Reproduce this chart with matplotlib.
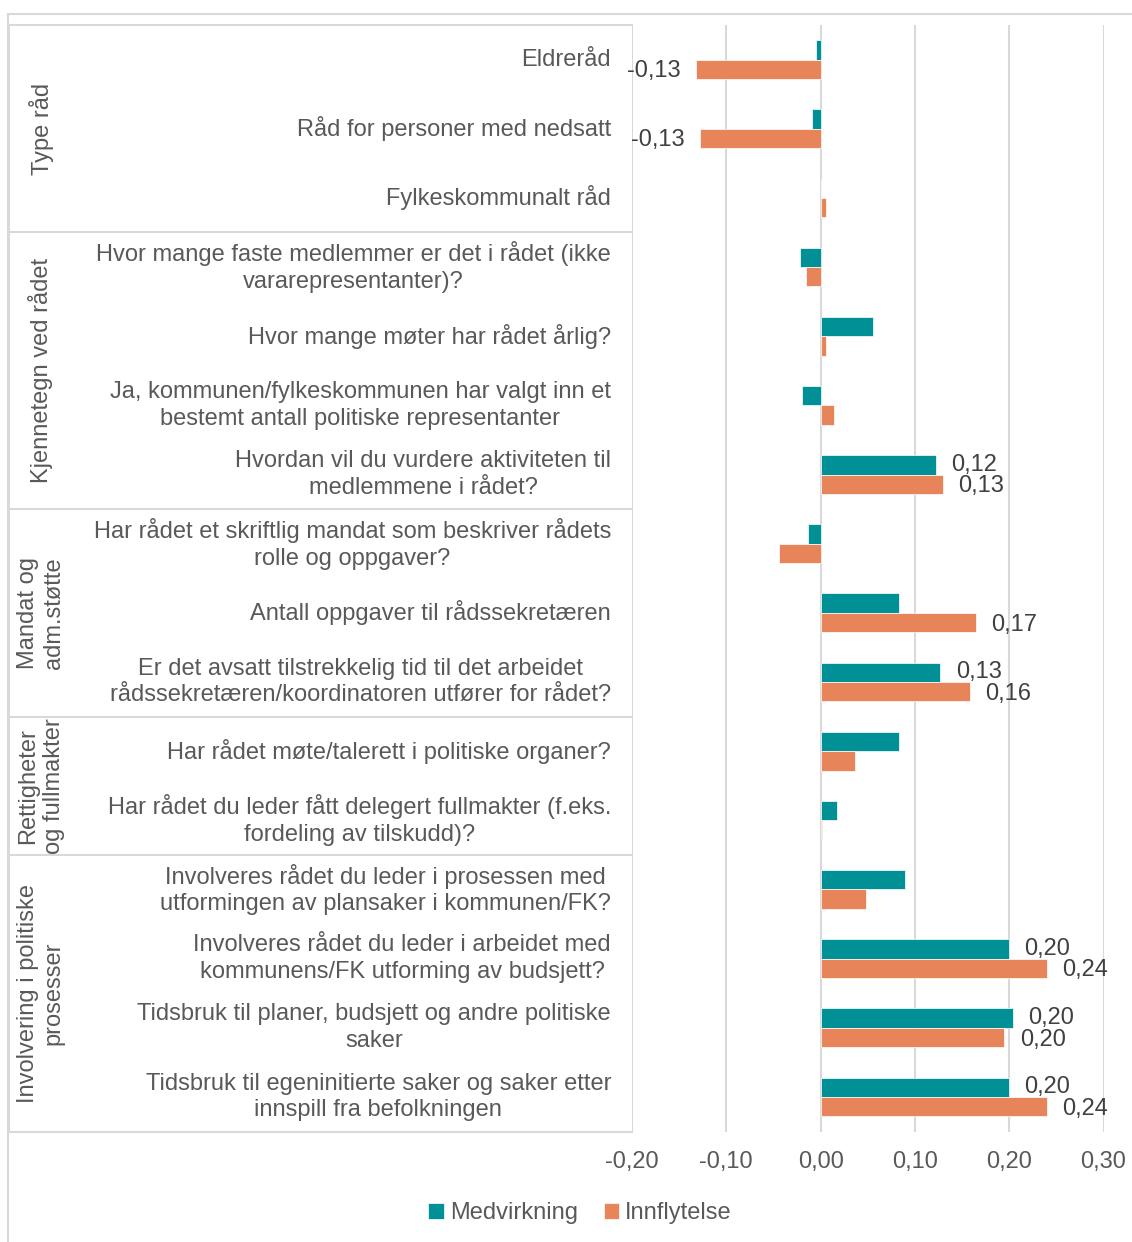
import matplotlib
matplotlib.use('Agg')
import matplotlib.pyplot as plt
from matplotlib.lines import Line2D
import numpy as np

plt.rcParams['font.family'] = ['Liberation Sans', 'DejaVu Sans']

categories = [
    'Eldreråd',
    'Råd for personer med nedsatt',
    'Fylkeskommunalt råd',
    'Hvor mange faste medlemmer er det i rådet (ikke\nvararepresentanter)?',
    'Hvor mange møter har rådet årlig?',
    'Ja, kommunen/fylkeskommunen har valgt inn et\nbestemt antall politiske representanter',
    'Hvordan vil du vurdere aktiviteten til\nmedlemmene i rådet?',
    'Har rådet et skriftlig mandat som beskriver rådets\nrolle og oppgaver?',
    'Antall oppgaver til rådssekretæren',
    'Er det avsatt tilstrekkelig tid til det arbeidet\nrådssekretæren/koordinatoren utfører for rådet?',
    'Har rådet møte/talerett i politiske organer?',
    'Har rådet du leder fått delegert fullmakter (f.eks.\nfordeling av tilskudd)?',
    'Involveres rådet du leder i prosessen med\nutformingen av plansaker i kommunen/FK?',
    'Involveres rådet du leder i arbeidet med\nkommunens/FK utforming av budsjett?',
    'Tidsbruk til planer, budsjett og andre politiske\nsaker',
    'Tidsbruk til egeninitierte saker og saker etter\ninnspill fra befolkningen',
]

groups = ['Type råd', 'Kjennetegn ved rådet', 'Mandat og\nadm.støtte',
          'Rettigheter\nog fullmakter', 'Involvering i politiske\nprosesser']
group_sizes = [3, 4, 3, 2, 4]

medvirkning = [-0.005, -0.009, 0.0, -0.022, 0.056, -0.020, 0.122, -0.013,
               0.083, 0.127, 0.083, 0.017, 0.090, 0.200, 0.204, 0.200]
innflytelse = [-0.132, -0.128, 0.006, -0.016, 0.006, 0.014, 0.130, -0.044,
               0.165, 0.158, 0.037, 0.001, 0.048, 0.240, 0.195, 0.240]

teal = '#009096'
orange = '#E8845A'
grid_c = '#d9d9d9'
text_c = '#595959'
label_c = '#404040'
fs = 17

W, H = 1132, 1242
fig = plt.figure(figsize=(W / 100, H / 100), dpi=100)
left_px, right_px, top_px, bot_px = 632, 1103.5, 25, 1131.5
ax = fig.add_axes([left_px / W, 1 - bot_px / H, (right_px - left_px) / W, (bot_px - top_px) / H])

y = np.arange(len(categories))
bh = 0.28
b1 = ax.barh(y - bh / 2, medvirkning, height=bh, color=teal, edgecolor='white', linewidth=0.5, zorder=3)
b2 = ax.barh(y + bh / 2, innflytelse, height=bh, color=orange, edgecolor='white', linewidth=0.5, zorder=3)

def fmt(v):
    return f'{v:.2f}'.replace('.', ',')

for bars, vals, dy in ((b1, medvirkning, 0), (b2, innflytelse, -1.5)):
    for rect, v in zip(bars, vals):
        if abs(v) < 0.1:
            continue
        yc = rect.get_y() + rect.get_height() / 2
        ax.annotate(fmt(v), (v, yc), xytext=(11 if v > 0 else -11, dy),
                    textcoords='offset points', ha='left' if v > 0 else 'right',
                    va='center', fontsize=fs, color=label_c, zorder=4)

ax.set_xlim(-0.2, 0.3)
ax.set_ylim(len(categories) - 0.5, -0.5)
ax.set_xticks(np.arange(-0.2, 0.31, 0.1))
ax.set_xticklabels([fmt(t) for t in np.arange(-0.2, 0.31, 0.1)])
ax.set_yticks([])
ax.tick_params(axis='x', length=0, pad=14, labelsize=fs, labelcolor=text_c)
for s in ax.spines.values():
    s.set_visible(False)
ax.grid(axis='x', color=grid_c, linewidth=1.5, zorder=0)
ax.set_axisbelow(True)

# category table on the left
tr = ax.get_yaxis_transform()
x_tab = (9 - left_px) / (right_px - left_px)
x_lab = (611 - left_px) / (right_px - left_px)
x_grp = (41 - left_px) / (right_px - left_px)
for i, c in enumerate(categories):
    ax.text(x_lab, i, c, transform=tr, ha='right', va='center', multialignment='center',
            fontsize=fs, color=text_c, clip_on=False, linespacing=1.28)

bounds = np.concatenate([[0], np.cumsum(group_sizes)]) - 0.5
for b in bounds:
    ax.plot([x_tab, 0], [b, b], transform=tr, color=grid_c, linewidth=1.5, clip_on=False)
ax.plot([x_tab, x_tab], [bounds[0], bounds[-1]], transform=tr, color=grid_c, linewidth=1.5, clip_on=False)
for g, a, b in zip(groups, bounds[:-1], bounds[1:]):
    ax.text(x_grp, (a + b) / 2, g, transform=tr, rotation=90, ha='center', va='center',
            multialignment='center', fontsize=fs, color=text_c, clip_on=False, linespacing=1.2)

# outer chart border
fig.add_artist(Line2D([8 / W, 1], [1 - 14 / H, 1 - 14 / H], color=grid_c, linewidth=1.5))
fig.add_artist(Line2D([8 / W, 8 / W], [0, 1 - 14 / H], color=grid_c, linewidth=1.5))

fig.legend([b1, b2], ['Medvirkning', 'Innflytelse'], loc='center',
           bbox_to_anchor=(580 / W, 1 - 1213 / H), ncol=2, frameon=False,
           fontsize=fs, labelcolor=text_c, handlelength=0.65, handleheight=0.65,
           handletextpad=0.25, columnspacing=1.1)

fig.savefig('out.png', dpi=100)
